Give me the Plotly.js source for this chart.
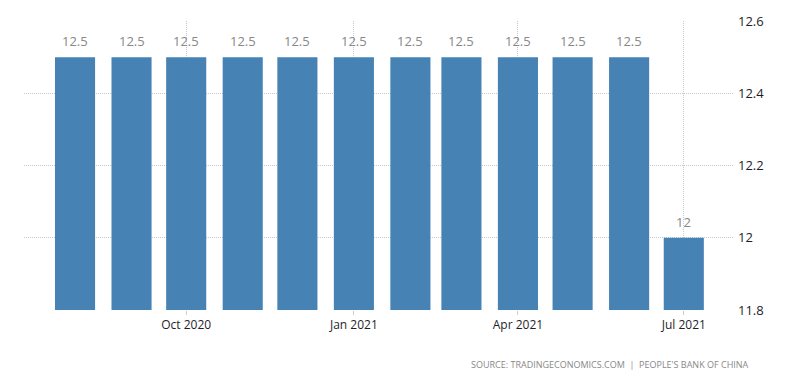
<!DOCTYPE html>
<html><head><meta charset="utf-8">
<script src="https://cdn.plot.ly/plotly-3.0.1.min.js"></script>
<style>body{margin:0;background:#fff}#c{width:800px;height:373px}</style>
</head><body><div id="c"></div>
<script>
const dates = ["2020-08-01","2020-09-01","2020-10-01","2020-11-01","2020-12-01","2021-01-01","2021-02-01","2021-03-01","2021-04-01","2021-05-01","2021-06-01","2021-07-01"];
const values = [12.5,12.5,12.5,12.5,12.5,12.5,12.5,12.5,12.5,12.5,12.5,12];
const labels = ["12.5","12.5","12.5","12.5","12.5","12.5","12.5","12.5","12.5","12.5","12.5","12"];
const tickVals = ["2020-10-01","2021-01-01","2021-04-01","2021-07-01"];
const tickText = ["Oct 2020","Jan 2021","Apr 2021","Jul 2021"];
const yTicks = [11.8,12,12.2,12.4,12.6];
const yTickText = ["11.8","12","12.2","12.4","12.6"];
const DAY = 86400000;
const FONT = 'Open Sans, Noto Sans, sans-serif';

const valueAnn = dates.map((d,i)=>({x:d, y:values[i], xref:'x', yref:'y', text:labels[i], showarrow:false,
  yanchor:'bottom', yshift:5, font:{family:FONT, size:13, color:'#888'}}));

Plotly.newPlot('c', [{
  type:'bar', x:dates, y:values,
  width: dates.map(()=>22*DAY),
  marker:{color:'#4682B4'},
  hoverinfo:'none'
}], {
  width:800, height:373,
  margin:{l:24, r:67, t:21, b:63},
  paper_bgcolor:'#fff', plot_bgcolor:'#fff',
  showlegend:false,
  font:{family:FONT, size:12, color:'#222'},
  xaxis:{type:'date', range:['2020-07-04','2021-07-28'], tickvals:tickVals, ticktext:tickText,
    showgrid:true, gridcolor:'#c8c8c8', griddash:'1px,1px', gridwidth:1,
    ticks:'outside', ticklen:4, tickcolor:'#ccc', zeroline:false, showline:false,
    tickfont:{family:FONT, size:12, color:'#1e1e2a'}},
  yaxis:{side:'right', range:[11.8,12.6], tickvals:yTicks, ticktext:yTickText,
    showgrid:true, gridcolor:'#c8c8c8', griddash:'1px,1px', gridwidth:1,
    zeroline:false, showline:false, ticks:'', ticklabelstandoff:4,
    tickfont:{family:FONT, size:13, color:'#1e1e2a'}},
  annotations:valueAnn.concat([{xref:'paper', yref:'paper', x:1.025, y:-0.16, xanchor:'right', yanchor:'top', showarrow:false,
    text:"SOURCE: TRADINGECONOMICS.COM  |  PEOPLE'S BANK OF CHINA",
    font:{family:FONT, size:9, color:'#888'}}])
}, {displayModeBar:false, staticPlot:true});
</script></body></html>
